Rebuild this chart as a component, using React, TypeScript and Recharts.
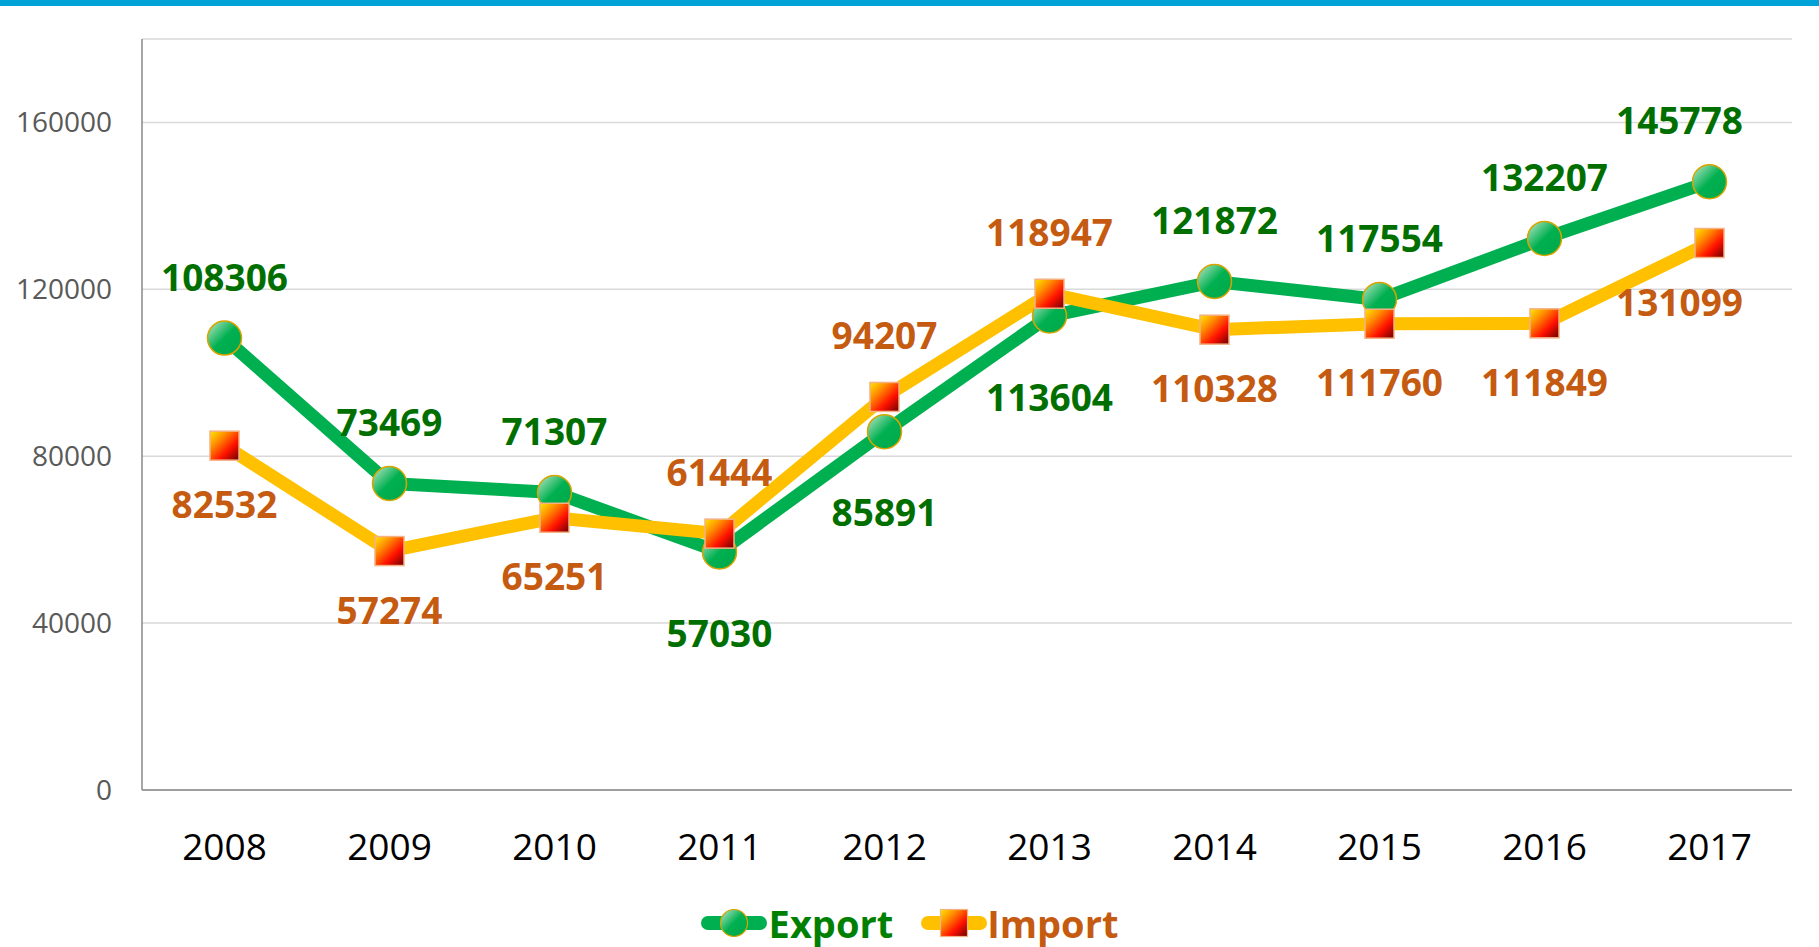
import React from 'react';
import { LineChart, Line, XAxis, YAxis, CartesianGrid, Legend, LabelList } from 'recharts';

const years = ['2008', '2009', '2010', '2011', '2012', '2013', '2014', '2015', '2016', '2017'];
const exportValues = [108306, 73469, 71307, 57030, 85891, 113604, 121872, 117554, 132207, 145778];
const importValues = [82532, 57274, 65251, 61444, 94207, 118947, 110328, 111760, 111849, 131099];
const yTicks = [0, 40000, 80000, 120000, 160000];
const yMax = 180000;

const data = years.map((year, i) => ({ year, Export: exportValues[i], Import: importValues[i] }));

const FONT = '"Open Sans", "Noto Sans", sans-serif';

const makeLabel = (own: number[], other: number[], color: string, belowOffset: number) => (props: any) => {
  const { index, value } = props;
  const x = props.x ?? props.viewBox?.x;
  const y = props.y ?? props.viewBox?.y;
  if (x == null || y == null) return null;
  const above = own[index] >= other[index];
  const dy = above ? -62 : belowOffset;
  const dx = index === own.length - 1 ? -30 : 0;
  return (
    <text
      key={`lbl-${color}-${index}`}
      x={x + dx}
      y={y + dy}
      textAnchor="middle"
      dominantBaseline="central"
      fill={color}
      fontFamily={FONT}
      fontWeight={700}
      fontSize={37}
    >
      {value}
    </text>
  );
};

const CircleDot = (props: any) => {
  const { cx, cy, index } = props;
  if (cx == null || cy == null) return null;
  return <circle key={`c-${index}`} cx={cx} cy={cy} r={17} fill="url(#gExport)" stroke="#D9A400" strokeWidth={1.5} />;
};

const SquareDot = (props: any) => {
  const { cx, cy, index } = props;
  if (cx == null || cy == null) return null;
  return (
    <rect key={`s-${index}`} x={cx - 14.5} y={cy - 14.5} width={29} height={29} fill="url(#gImport)" stroke="#F4B183" strokeWidth={1.5} />
  );
};

const GradDefs = ({ prefix }: { prefix: string }) => (
  <defs>
    <linearGradient id={`${prefix}Export`} x1="0" y1="0" x2="1" y2="1">
      <stop offset="0%" stopColor="#C2E8CC" />
      <stop offset="50%" stopColor="#00B050" />
      <stop offset="100%" stopColor="#00A84A" />
    </linearGradient>
    <linearGradient id={`${prefix}Import`} x1="0" y1="0" x2="1" y2="1">
      <stop offset="0%" stopColor="#FFE800" />
      <stop offset="30%" stopColor="#FF9000" />
      <stop offset="65%" stopColor="#FF1000" />
      <stop offset="100%" stopColor="#6A0000" />
    </linearGradient>
  </defs>
);

const renderLegend = () => (
  <div style={{ display: 'flex', justifyContent: 'center', alignItems: 'center', height: 60 }}>
    <svg width={66} height={34} style={{ display: 'block' }}>
      <GradDefs prefix="lg" />
      <line x1={7} y1={17} x2={59} y2={17} stroke="#00B050" strokeWidth={14} strokeLinecap="round" />
      <circle cx={33} cy={17} r={13.5} fill="url(#lgExport)" stroke="#D9A400" strokeWidth={1.2} />
    </svg>
    <span style={{ fontFamily: FONT, fontWeight: 700, fontSize: 38, lineHeight: 1, color: '#008000', marginLeft: 2 }}>Export</span>
    <svg width={66} height={34} style={{ display: 'block', marginLeft: 28 }}>
      <GradDefs prefix="lg2" />
      <line x1={7} y1={17} x2={59} y2={17} stroke="#FFC000" strokeWidth={14} strokeLinecap="round" />
      <rect x={19.5} y={3.5} width={27} height={27} fill="url(#lg2Import)" stroke="#F4B183" strokeWidth={1.2} />
    </svg>
    <span style={{ fontFamily: FONT, fontWeight: 700, fontSize: 38, lineHeight: 1, color: '#C55A11' }}>Import</span>
  </div>
);

export default function App() {
  return (
    <div style={{ position: 'absolute', left: 0, top: 0, width: 1819, height: 947, background: '#fff' }}>
      <div style={{ position: 'absolute', left: 0, top: 0, width: 1819, height: 6, background: '#00A3D7' }} />
      <LineChart width={1819} height={947} data={data} margin={{ top: 39, right: 27, left: 0, bottom: 7 }}>
        <GradDefs prefix="g" />
        <CartesianGrid vertical={false} stroke="#D9D9D9" strokeWidth={1.5} />
        <XAxis
          dataKey="year"
          height={90}
          padding={{ left: 82.5, right: 82.5 }}
          axisLine={{ stroke: '#898989', strokeWidth: 1.5 }}
          tickLine={false}
          tickSize={0}
          tickMargin={44}
          tick={{ fill: '#000', fontSize: 37, fontFamily: FONT }}
        />
        <YAxis
          width={142}
          domain={[0, yMax]}
          ticks={yTicks}
          axisLine={{ stroke: '#898989', strokeWidth: 1.5 }}
          tickLine={false}
          tickSize={0}
          tickMargin={30}
          tick={{ fill: '#595959', fontSize: 28, fontFamily: FONT }}
        />
        <Legend verticalAlign="bottom" content={renderLegend} wrapperStyle={{ top: 893, left: 0, width: 1819, height: 60 }} />
        <Line
          dataKey="Export"
          stroke="#00B050"
          strokeWidth={13}
          dot={CircleDot}
          activeDot={false}
          isAnimationActive={false}
        >
          <LabelList dataKey="Export" content={makeLabel(exportValues, importValues, '#006F00', 80)} />
        </Line>
        <Line
          dataKey="Import"
          stroke="#FFC000"
          strokeWidth={13}
          dot={SquareDot}
          activeDot={false}
          isAnimationActive={false}
        >
          <LabelList dataKey="Import" content={makeLabel(importValues, exportValues, '#C55A11', 58)} />
        </Line>
      </LineChart>
    </div>
  );
}
